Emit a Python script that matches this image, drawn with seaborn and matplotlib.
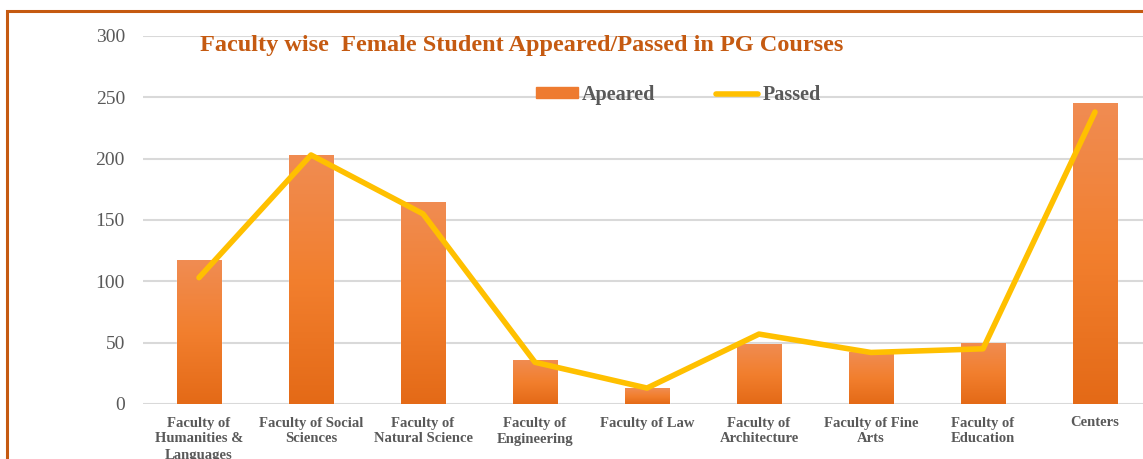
import numpy as np
import pandas as pd
import matplotlib.pyplot as plt
import seaborn as sns
from matplotlib.patches import Rectangle
from matplotlib.colors import LinearSegmentedColormap


categories = ['Faculty of\nHumanities &\nLanguages', 'Faculty of Social\nSciences',
              'Faculty of\nNatural Science', 'Faculty of\nEngineering', 'Faculty of Law',
              'Faculty of\nArchitecture', 'Faculty of Fine\nArts', 'Faculty of\nEducation',
              'Centers']
appeared = [117, 203, 165, 36, 13, 49, 42, 50, 245]
passed = [103, 203, 155, 34, 13, 57, 42, 45, 238]
yticks = [0, 50, 100, 150, 200, 250, 300]

df = pd.DataFrame({'category': categories, 'Apeared': appeared, 'Passed': passed})

sns.set_style('white')
plt.rcParams['font.family'] = ['Liberation Serif', 'DejaVu Serif']
grey = '#595959'

fig = plt.figure(figsize=(11.43, 4.59), dpi=100)
ax = fig.add_axes([143 / 1143, 55 / 459, 1008 / 1143, 368 / 459])

# orange frame around the chart (cut off at right/bottom like the source)
fig.patches.append(Rectangle((7 / 1143, -0.05), 1.1, (459 - 11) / 459 + 0.05,
                             transform=fig.transFigure, fill=False,
                             edgecolor='#C55A11', linewidth=2.2, zorder=0))

sns.barplot(data=df, x='category', y='Apeared', color='#EE7B30', width=0.4,
            saturation=1, label='Apeared', ax=ax, zorder=2)
sns.lineplot(data=df, x='category', y='Passed', color='#FFC000', linewidth=4,
             sort=False, label='Passed', ax=ax, zorder=4,
             solid_capstyle='round', solid_joinstyle='round')

# vertical gradient fill on the bars, like the office chart
grad = LinearSegmentedColormap.from_list('g', ['#E46A17', '#F27F2E', '#F08C52'])
for bar in ax.patches:
    x0, y0 = bar.get_x(), bar.get_y()
    w, h = bar.get_width(), bar.get_height()
    im = ax.imshow(np.linspace(0, 1, 100).reshape(-1, 1), cmap=grad, aspect='auto',
                   origin='lower', extent=[x0, x0 + w, y0, y0 + h], zorder=3)
    im.set_clip_path(bar)

ax.set_ylim(0, 300)
ax.set_xlim(-0.5, len(categories) - 0.5)
ax.set_yticks(yticks)
ax.yaxis.grid(True, color='#D9D9D9', linewidth=1.5, zorder=0)
ax.set_axisbelow(True)
sns.despine(ax=ax, left=True, bottom=True, top=True, right=True)
ax.set_xlabel('')
ax.set_ylabel('')
ax.tick_params(axis='y', length=0, pad=13, labelsize=14, labelcolor=grey)
ax.tick_params(axis='x', length=0, pad=9, labelsize=10.5, labelcolor=grey)
for t in ax.get_xticklabels():
    t.set_fontweight('bold')
    t.set_linespacing(1.3)

handles, labels = ax.get_legend_handles_labels()
order = [labels.index('Apeared'), labels.index('Passed')]
leg = ax.legend([handles[i] for i in order], [labels[i] for i in order],
                loc='center', bbox_to_anchor=(0.531, 0.84),
                ncol=2, frameon=False, prop={'weight': 'bold', 'size': 14.5},
                handlelength=2.1, handleheight=0.45, columnspacing=3.0, handletextpad=0.2)
for t in leg.get_texts():
    t.set_color(grey)
leg.legend_handles[0].set_color('#EE7B30')

fig.text(200 / 1143, 1 - 45 / 459, 'Faculty wise  Female Student Appeared/Passed in PG Courses',
         color='#C55A11', fontsize=17.5, fontweight='bold', va='center', ha='left')

fig.savefig('out.png', dpi=100)
